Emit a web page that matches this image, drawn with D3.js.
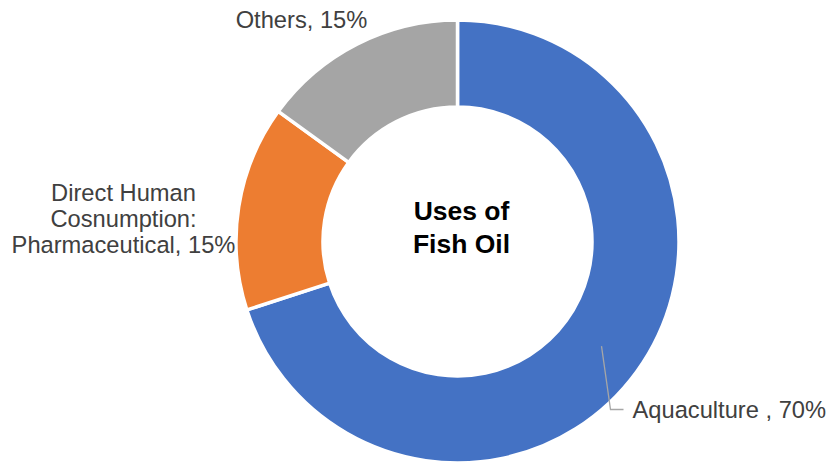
<!DOCTYPE html>
<html>
<head>
<meta charset="utf-8">
<script src="https://cdn.jsdelivr.net/npm/d3@7"></script>
<style>
	body { margin: 0; background: #fff; }
	svg text { font-family: Arial, "Liberation Sans", sans-serif; }
</style>
</head>
<body>
<svg id="chart" width="830" height="464"></svg>
<script>
// Chart data
const categories = ['Aquaculture', 'Direct Human Cosnumption: Pharmaceutical', 'Others'];
const shares = [70, 15, 15];
const labelLines = [
	['Aquaculture , 70%'],
	['Direct Human', 'Cosnumption:', 'Pharmaceutical, 15%'],
	['Others, 15%']
];
const colors = ['#4472C4', '#ED7D31', '#A5A5A5'];

const cx = 457.5;
const cy = 241.5;
const outerR = 221.5;
const innerR = 134.5;

const data = categories.map((c, i) => ({ name: c, value: shares[i], lines: labelLines[i], color: colors[i] }));

const svg = d3.select('#chart');
const g = svg.append('g')
	.attr('transform', `translate(${cx}, ${cy})`);

const pie = d3.pie()
	.sort(null)
	.value(d => d.value);

const arc = d3.arc()
	.innerRadius(innerR)
	.outerRadius(outerR);

const arcs = pie(data);

// Slices
g.selectAll('.slice')
	.data(arcs)
	.enter()
	.append('path')
		.attr('class', 'slice')
		.attr('d', arc)
		.attr('fill', d => d.data.color)
		.attr('stroke', '#fff')
		.attr('stroke-width', 3.5)
		.attr('stroke-linejoin', 'round');

// Label placement relative to the donut centre (hand tuned like the original)
const labelLayout = [
	{ x: 175, y: 176, anchor: 'start' },
	{ x: -334, y: -41, anchor: 'middle' },
	{ x: -156, y: -214, anchor: 'middle' }
];
const lineH = 26;

const labels = g.selectAll('.label')
	.data(arcs)
	.enter()
	.append('text')
		.attr('class', 'label')
		.attr('text-anchor', (d, i) => labelLayout[i].anchor)
		.attr('fill', '#404040')
		.style('font-size', '23.7px');

labels.each(function(d, i) {
	const lay = labelLayout[i];
	d3.select(this).selectAll('tspan')
		.data(d.data.lines)
		.enter()
		.append('tspan')
			.attr('x', lay.x)
			.attr('y', (t, j) => lay.y + j * lineH)
			.text(t => t);
});

// Leader line for Aquaculture: from slice centroid down to its label
const c0 = arc.centroid(arcs[0]);
const labelY = labelLayout[0].y - 8;
g.append('polyline')
	.attr('points', [c0, [c0[0] + 9, labelY], [labelLayout[0].x - 9, labelY]].map(p => p.join(',')).join(' '))
	.attr('fill', 'none')
	.attr('stroke', '#A6A6A6')
	.attr('stroke-width', 1.3);

// Centre title
g.append('text')
	.attr('text-anchor', 'middle')
	.attr('fill', '#000')
	.style('font-size', '26.5px')
	.style('font-weight', 'bold')
	.selectAll('tspan')
	.data(['Uses of', 'Fish Oil'])
	.enter()
	.append('tspan')
		.attr('x', 4)
		.attr('y', (t, j) => -22 + j * 33)
		.text(t => t);
</script>
</body>
</html>
